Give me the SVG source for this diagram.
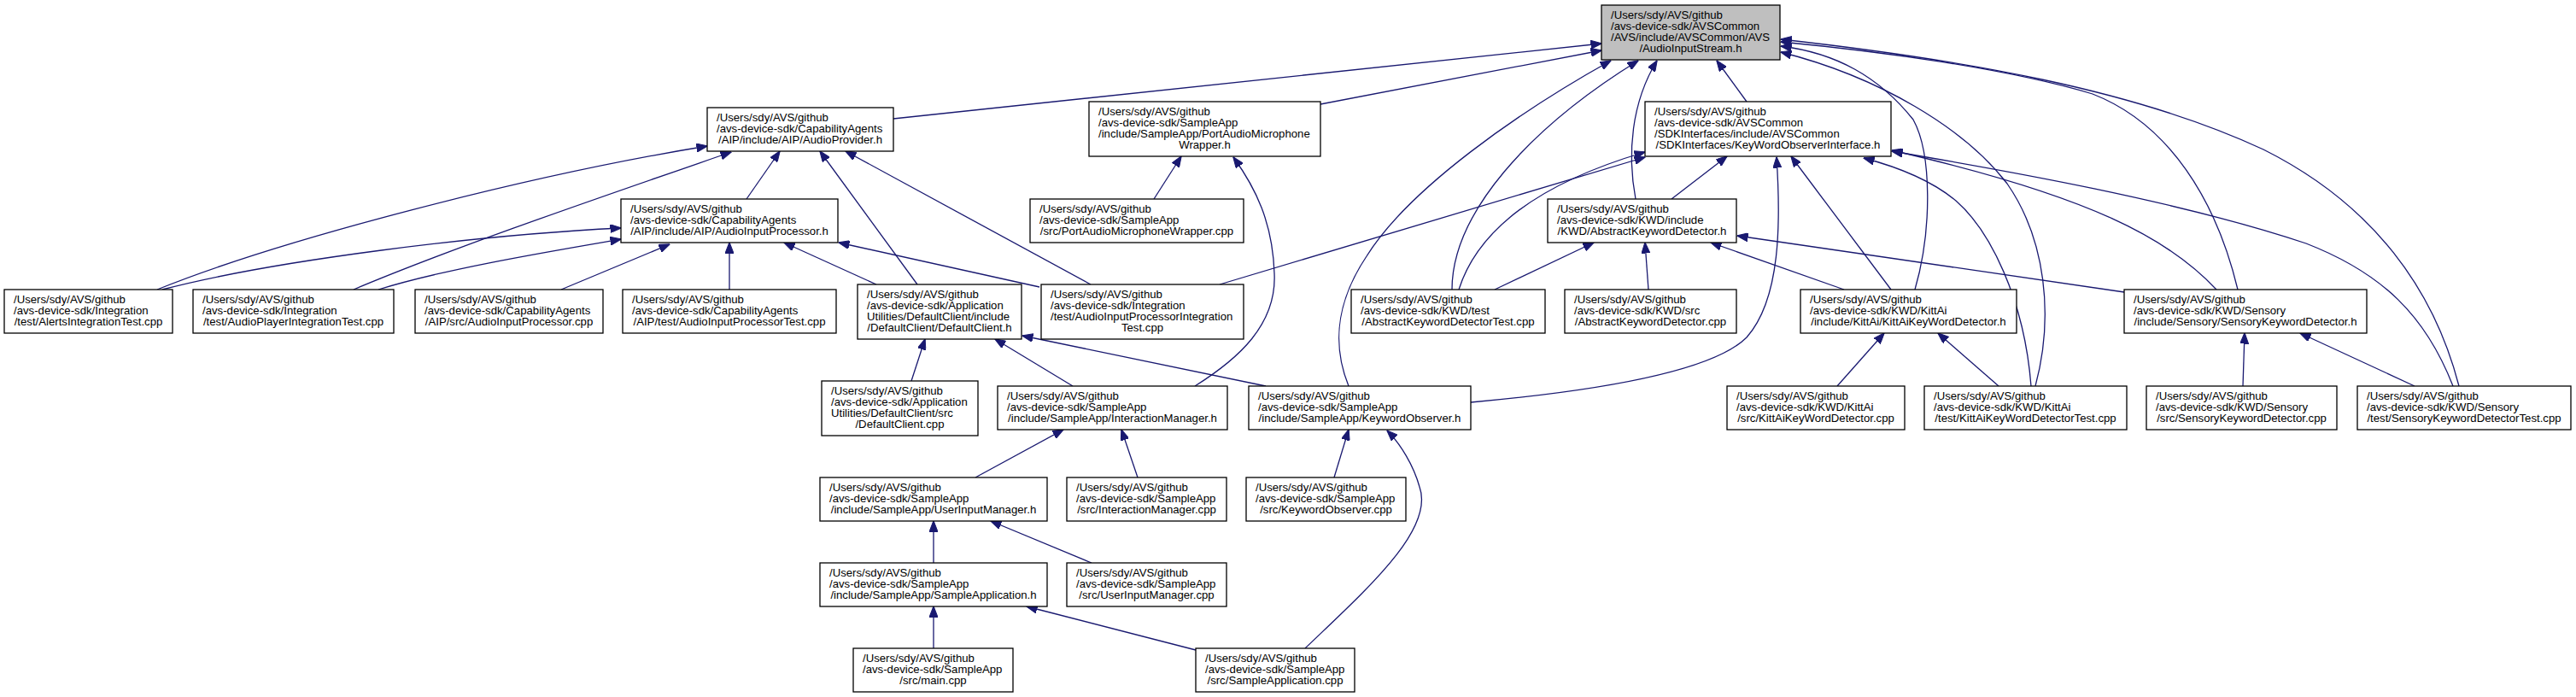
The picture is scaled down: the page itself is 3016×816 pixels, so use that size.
<svg xmlns="http://www.w3.org/2000/svg" width="3016" height="816" viewBox="0 0 3016 816">
<style>
.node rect{fill:#fff;stroke:#000;stroke-width:1.3}
.node rect.hl{fill:#bfbfbf}
.node text{font-family:"Liberation Sans",Arial,Helvetica,sans-serif;font-size:13.2px;fill:#000}
.node text.c{text-anchor:middle}
#edges path{fill:none;stroke:#191970;stroke-width:1.3;marker-end:url(#arr)}
</style>
<defs>
<marker id="arr" markerUnits="userSpaceOnUse" viewBox="0 0 13 10" markerWidth="13" markerHeight="10" refX="12.5" refY="5" orient="auto">
<path d="M0,0 L13,5 L0,10 z" fill="#191970" stroke="#191970" stroke-width="1"/>
</marker>
</defs>
<rect width="3016" height="816" fill="#fff"/>
<g id="edges">
<path d="M1046,139 L1875,51"/>
<path d="M1546,122 L1875,59"/>
<path d="M184,339 C330,280 620,205 828,171"/>
<path d="M190,339 C320,305 560,275 727,267"/>
<path d="M414,339 C530,290 700,232 856,178"/>
<path d="M443,339 C520,315 640,295 727,280"/>
<path d="M657,339 L784,286"/>
<path d="M854,339 L854,284"/>
<path d="M1026,333 L918,284"/>
<path d="M1217,336 L982,284"/>
<path d="M874,233 L913,177"/>
<path d="M1074,333 L960,177"/>
<path d="M1277,333 L990,177"/>
<path d="M1351,233 L1383,183"/>
<path d="M1399,452 C1450,420 1495,380 1492,320 C1490,260 1470,220 1444,184"/>
<path d="M1700,339 C1700,250 1790,150 1918,71"/>
<path d="M1708,339 C1730,270 1800,215 1926,178"/>
<path d="M1428,333 L1926,184"/>
<path d="M1579,452 C1562,410 1560,360 1600,300 C1650,220 1780,130 1886,71"/>
<path d="M1722,471 C1900,455 2010,430 2045,395 C2085,350 2085,260 2080,184"/>
<path d="M1915,233 C1905,180 1910,120 1940,71"/>
<path d="M2045,119 L2010,71"/>
<path d="M2879,452 C2850,340 2780,240 2650,175 C2500,105 2300,70 2085,46"/>
<path d="M2620,339 C2595,235 2540,145 2450,110 C2350,80 2200,60 2085,49"/>
<path d="M2383,452 C2405,370 2395,280 2350,215 C2300,150 2200,90 2085,61"/>
<path d="M2242,339 C2262,270 2262,180 2240,140 C2200,90 2150,62 2085,54"/>
<path d="M1750,339 L1866,284"/>
<path d="M1930,339 L1926,284"/>
<path d="M2159,339 L2003,284"/>
<path d="M2487,342 L2034,276"/>
<path d="M1957,233 L2022,183"/>
<path d="M2214,339 L2097,183"/>
<path d="M2378,452 C2370,350 2330,270 2290,235 C2260,210 2220,195 2182,185"/>
<path d="M2595,339 C2540,280 2450,230 2215,176"/>
<path d="M2872,452 C2840,370 2790,320 2700,285 C2550,235 2350,200 2215,177"/>
<path d="M2151,452 L2206,390"/>
<path d="M2340,452 L2269,390"/>
<path d="M2626,452 L2628,390"/>
<path d="M2827,452 L2693,390"/>
<path d="M1067,446 L1083,397"/>
<path d="M1256,452 L1165,397"/>
<path d="M1482,452 L1197,393"/>
<path d="M1142,559 L1245,503"/>
<path d="M1332,559 L1313,503"/>
<path d="M1093,659 L1093,610"/>
<path d="M1278,659 L1160,610"/>
<path d="M1093,759 L1093,710"/>
<path d="M1400,761 L1202,710"/>
<path d="M1562,559 L1579,503"/>
<path d="M1528,759 C1600,690 1680,620 1662,570 C1655,545 1640,520 1624,504"/>
</g>
<g id="n0" class="node"><rect class="hl" x="1875" y="6" width="209" height="64"/><text x="1886" y="22">/Users/sdy/AVS/github</text><text x="1886" y="35">/avs-device-sdk/AVSCommon</text><text x="1886" y="48">/AVS/include/AVSCommon/AVS</text><text class="c" x="1979.5" y="61">/AudioInputStream.h</text></g>
<g id="n1" class="node"><rect x="828" y="126" width="218" height="51"/><text x="839" y="142">/Users/sdy/AVS/github</text><text x="839" y="155">/avs-device-sdk/CapabilityAgents</text><text class="c" x="937" y="168">/AIP/include/AIP/AudioProvider.h</text></g>
<g id="n2" class="node"><rect x="1275" y="119" width="271" height="64"/><text x="1286" y="135">/Users/sdy/AVS/github</text><text x="1286" y="148">/avs-device-sdk/SampleApp</text><text x="1286" y="161">/include/SampleApp/PortAudioMicrophone</text><text class="c" x="1410.5" y="174">Wrapper.h</text></g>
<g id="n3" class="node"><rect x="1926" y="119" width="288" height="64"/><text x="1937" y="135">/Users/sdy/AVS/github</text><text x="1937" y="148">/avs-device-sdk/AVSCommon</text><text x="1937" y="161">/SDKInterfaces/include/AVSCommon</text><text class="c" x="2070" y="174">/SDKInterfaces/KeyWordObserverInterface.h</text></g>
<g id="n4" class="node"><rect x="727" y="233" width="254" height="51"/><text x="738" y="249">/Users/sdy/AVS/github</text><text x="738" y="262">/avs-device-sdk/CapabilityAgents</text><text class="c" x="854" y="275">/AIP/include/AIP/AudioInputProcessor.h</text></g>
<g id="n5" class="node"><rect x="1206" y="233" width="250" height="51"/><text x="1217" y="249">/Users/sdy/AVS/github</text><text x="1217" y="262">/avs-device-sdk/SampleApp</text><text class="c" x="1331" y="275">/src/PortAudioMicrophoneWrapper.cpp</text></g>
<g id="n6" class="node"><rect x="1812" y="233" width="221" height="51"/><text x="1823" y="249">/Users/sdy/AVS/github</text><text x="1823" y="262">/avs-device-sdk/KWD/include</text><text class="c" x="1922.5" y="275">/KWD/AbstractKeywordDetector.h</text></g>
<g id="n7" class="node"><rect x="5" y="339" width="197" height="51"/><text x="16" y="355">/Users/sdy/AVS/github</text><text x="16" y="368">/avs-device-sdk/Integration</text><text class="c" x="103.5" y="381">/test/AlertsIntegrationTest.cpp</text></g>
<g id="n8" class="node"><rect x="226" y="339" width="235" height="51"/><text x="237" y="355">/Users/sdy/AVS/github</text><text x="237" y="368">/avs-device-sdk/Integration</text><text class="c" x="343.5" y="381">/test/AudioPlayerIntegrationTest.cpp</text></g>
<g id="n9" class="node"><rect x="486" y="339" width="220" height="51"/><text x="497" y="355">/Users/sdy/AVS/github</text><text x="497" y="368">/avs-device-sdk/CapabilityAgents</text><text class="c" x="596" y="381">/AIP/src/AudioInputProcessor.cpp</text></g>
<g id="n10" class="node"><rect x="729" y="339" width="250" height="51"/><text x="740" y="355">/Users/sdy/AVS/github</text><text x="740" y="368">/avs-device-sdk/CapabilityAgents</text><text class="c" x="854" y="381">/AIP/test/AudioInputProcessorTest.cpp</text></g>
<g id="n11" class="node"><rect x="1004" y="333" width="192" height="64"/><text x="1015" y="349">/Users/sdy/AVS/github</text><text x="1015" y="362">/avs-device-sdk/Application</text><text x="1015" y="375">Utilities/DefaultClient/include</text><text class="c" x="1100" y="388">/DefaultClient/DefaultClient.h</text></g>
<g id="n12" class="node"><rect x="1219" y="333" width="237" height="64"/><text x="1230" y="349">/Users/sdy/AVS/github</text><text x="1230" y="362">/avs-device-sdk/Integration</text><text x="1230" y="375">/test/AudioInputProcessorIntegration</text><text class="c" x="1337.5" y="388">Test.cpp</text></g>
<g id="n13" class="node"><rect x="1582" y="339" width="227" height="51"/><text x="1593" y="355">/Users/sdy/AVS/github</text><text x="1593" y="368">/avs-device-sdk/KWD/test</text><text class="c" x="1695.5" y="381">/AbstractKeywordDetectorTest.cpp</text></g>
<g id="n14" class="node"><rect x="1832" y="339" width="201" height="51"/><text x="1843" y="355">/Users/sdy/AVS/github</text><text x="1843" y="368">/avs-device-sdk/KWD/src</text><text class="c" x="1932.5" y="381">/AbstractKeywordDetector.cpp</text></g>
<g id="n15" class="node"><rect x="2108" y="339" width="253" height="51"/><text x="2119" y="355">/Users/sdy/AVS/github</text><text x="2119" y="368">/avs-device-sdk/KWD/KittAi</text><text class="c" x="2234.5" y="381">/include/KittAi/KittAiKeyWordDetector.h</text></g>
<g id="n16" class="node"><rect x="2487" y="339" width="284" height="51"/><text x="2498" y="355">/Users/sdy/AVS/github</text><text x="2498" y="368">/avs-device-sdk/KWD/Sensory</text><text class="c" x="2629" y="381">/include/Sensory/SensoryKeywordDetector.h</text></g>
<g id="n17" class="node"><rect x="962" y="446" width="183" height="64"/><text x="973" y="462">/Users/sdy/AVS/github</text><text x="973" y="475">/avs-device-sdk/Application</text><text x="973" y="488">Utilities/DefaultClient/src</text><text class="c" x="1053.5" y="501">/DefaultClient.cpp</text></g>
<g id="n18" class="node"><rect x="1168" y="452" width="269" height="51"/><text x="1179" y="468">/Users/sdy/AVS/github</text><text x="1179" y="481">/avs-device-sdk/SampleApp</text><text class="c" x="1302.5" y="494">/include/SampleApp/InteractionManager.h</text></g>
<g id="n19" class="node"><rect x="1462" y="452" width="260" height="51"/><text x="1473" y="468">/Users/sdy/AVS/github</text><text x="1473" y="481">/avs-device-sdk/SampleApp</text><text class="c" x="1592" y="494">/include/SampleApp/KeywordObserver.h</text></g>
<g id="n20" class="node"><rect x="2022" y="452" width="208" height="51"/><text x="2033" y="468">/Users/sdy/AVS/github</text><text x="2033" y="481">/avs-device-sdk/KWD/KittAi</text><text class="c" x="2126" y="494">/src/KittAiKeyWordDetector.cpp</text></g>
<g id="n21" class="node"><rect x="2253" y="452" width="237" height="51"/><text x="2264" y="468">/Users/sdy/AVS/github</text><text x="2264" y="481">/avs-device-sdk/KWD/KittAi</text><text class="c" x="2371.5" y="494">/test/KittAiKeyWordDetectorTest.cpp</text></g>
<g id="n22" class="node"><rect x="2513" y="452" width="223" height="51"/><text x="2524" y="468">/Users/sdy/AVS/github</text><text x="2524" y="481">/avs-device-sdk/KWD/Sensory</text><text class="c" x="2624.5" y="494">/src/SensoryKeywordDetector.cpp</text></g>
<g id="n23" class="node"><rect x="2760" y="452" width="250" height="51"/><text x="2771" y="468">/Users/sdy/AVS/github</text><text x="2771" y="481">/avs-device-sdk/KWD/Sensory</text><text class="c" x="2885" y="494">/test/SensoryKeywordDetectorTest.cpp</text></g>
<g id="n24" class="node"><rect x="960" y="559" width="266" height="51"/><text x="971" y="575">/Users/sdy/AVS/github</text><text x="971" y="588">/avs-device-sdk/SampleApp</text><text class="c" x="1093" y="601">/include/SampleApp/UserInputManager.h</text></g>
<g id="n25" class="node"><rect x="1249" y="559" width="187" height="51"/><text x="1260" y="575">/Users/sdy/AVS/github</text><text x="1260" y="588">/avs-device-sdk/SampleApp</text><text class="c" x="1342.5" y="601">/src/InteractionManager.cpp</text></g>
<g id="n26" class="node"><rect x="1459" y="559" width="187" height="51"/><text x="1470" y="575">/Users/sdy/AVS/github</text><text x="1470" y="588">/avs-device-sdk/SampleApp</text><text class="c" x="1552.5" y="601">/src/KeywordObserver.cpp</text></g>
<g id="n27" class="node"><rect x="960" y="659" width="266" height="51"/><text x="971" y="675">/Users/sdy/AVS/github</text><text x="971" y="688">/avs-device-sdk/SampleApp</text><text class="c" x="1093" y="701">/include/SampleApp/SampleApplication.h</text></g>
<g id="n28" class="node"><rect x="1249" y="659" width="187" height="51"/><text x="1260" y="675">/Users/sdy/AVS/github</text><text x="1260" y="688">/avs-device-sdk/SampleApp</text><text class="c" x="1342.5" y="701">/src/UserInputManager.cpp</text></g>
<g id="n29" class="node"><rect x="999" y="759" width="187" height="51"/><text x="1010" y="775">/Users/sdy/AVS/github</text><text x="1010" y="788">/avs-device-sdk/SampleApp</text><text class="c" x="1092.5" y="801">/src/main.cpp</text></g>
<g id="n30" class="node"><rect x="1400" y="759" width="186" height="51"/><text x="1411" y="775">/Users/sdy/AVS/github</text><text x="1411" y="788">/avs-device-sdk/SampleApp</text><text class="c" x="1493" y="801">/src/SampleApplication.cpp</text></g>
</svg>
